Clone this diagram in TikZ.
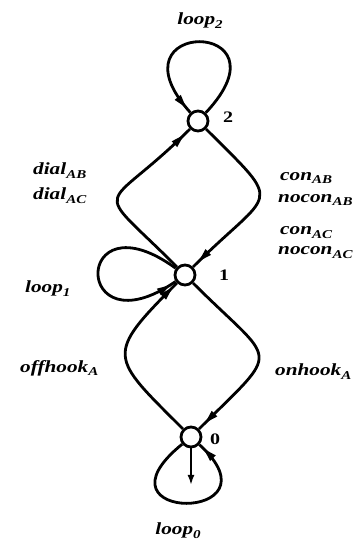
\documentclass[tikz,border=0pt]{standalone}
\usepackage{fontspec}
\newfontfamily\lblf{Liberation Serif}[FakeStretch=1.25]
\usetikzlibrary{arrows.meta,decorations.markings}
\newcommand\sbx[1]{\raisebox{-0.5ex}{\fontsize{12}{12}\selectfont #1}}
\tikzset{
  st/.style={circle, draw, line width=2.8pt, minimum size=20pt, inner sep=0pt},
  edge/.style={line width=2.8pt},
  lbl/.style={font=\lblf\fontsize{17}{17}\selectfont\bfseries\itshape, inner sep=0pt},
  num/.style={font=\lblf\fontsize{16}{16}\selectfont\bfseries, inner sep=0pt},
  arrat/.style={postaction={decorate}, decoration={markings, mark=at position #1 with {\fill (-12pt,-4pt) -- (1pt,0pt) -- (-12pt,4pt) -- cycle;}}},
}
\begin{document}
\begin{tikzpicture}[x=1pt,y=1pt]
\useasboundingbox (0,0) rectangle (355,543);
% states
\node[st] (n2) at (198,422) {};
\node[st] (n1) at (185,268) {};
\node[st] (n0) at (191,106) {};
\node[num] (t2) at (228,426) {2};
\node[num] (t1) at (224,268) {1};
\node[num] (t0) at (215,104) {0};
% upper lens
\draw[edge, arrat=0.95] (n1) .. controls (89,364) and (102,326) .. (n2);
\draw[edge, arrat=0.95] (n2) .. controls (286,334) and (273,356) .. (n1);
% lower lens
\draw[edge, arrat=0.96] (n0) .. controls (110,187) and (104,187) .. (n1);
\draw[edge, arrat=0.95] (n1) .. controls (277,176) and (283,198) .. (n0);
% loops
\draw[edge, arrat=0.96] (n2) .. controls (295,525) and (105,525) .. (n2);
\draw[edge, arrat=0.96] (n1) .. controls (72,350) and (72,190) .. (n1);
\draw[edge, arrat=0.96] (n0) .. controls (85,20) and (285,20) .. (n0);
\coordinate (s0) at (191,58);
\draw[edge, -{Latex[length=10pt,width=7pt]}] (n0) -- (s0);
% labels
\node[lbl] (l2) at (200,522) {loop\sbx{2}};
\node[lbl, anchor=west] (dab) at (33,372) {dial\sbx{AB}};
\node[lbl, anchor=west] (dac) at (33,347) {dial\sbx{AC}};
\node[lbl, anchor=west] (cab) at (280,365) {con\sbx{AB}};
\node[lbl, anchor=west] (ncab) at (278,343) {nocon\sbx{AB}};
\node[lbl, anchor=west] (cac) at (280,310) {con\sbx{AC}};
\node[lbl, anchor=west] (ncac) at (278,290) {nocon\sbx{AC}};
\node[lbl, anchor=west] (l1) at (25,254) {loop\sbx{1}};
\node[lbl, anchor=west] (off) at (20,175) {offhook\sbx{A}};
\node[lbl, anchor=west] (on) at (275,171) {onhook\sbx{A}};
\node[lbl] (l0) at (178,12) {loop\sbx{0}};
\end{tikzpicture}
\end{document}
